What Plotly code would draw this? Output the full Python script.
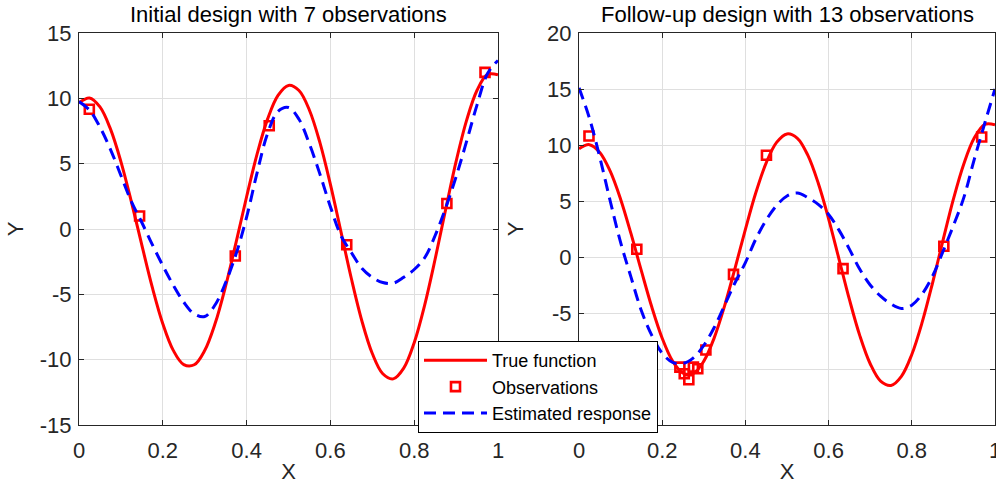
import plotly.graph_objects as go

# ---------------- data ----------------
x_grid = [0.0, 0.025, 0.05, 0.075, 0.1, 0.125, 0.15, 0.175, 0.2, 0.225,
          0.25, 0.275, 0.3, 0.325, 0.35, 0.375, 0.4, 0.425, 0.45, 0.475,
          0.5, 0.525, 0.55, 0.575, 0.6, 0.625, 0.65, 0.675, 0.7, 0.725,
          0.75, 0.775, 0.8, 0.825, 0.85, 0.875, 0.9, 0.925, 0.95, 0.975, 1.0]

true_y = [9.66, 10.03, 9.34, 7.66, 5.16, 2.08, -1.24, -4.47, -7.25, -9.29,
          -10.38, -10.39, -9.30, -7.22, -4.36, -1.01, 2.47, 5.73, 8.41, 10.23,
          10.99, 10.60, 9.09, 6.61, 3.41, -0.18, -3.79, -7.02, -9.53, -11.08,
          -11.47, -10.65, -8.70, -5.82, -2.30, 1.49, 5.17, 8.31, 10.62, 11.83, 11.80]

est_left = [9.75, 9.1, 7.8, 6.1, 4.1, 2.1, 0.5, -1.2, -2.8, -4.3,
            -5.6, -6.5, -6.7, -5.8, -4.1, -1.9, 0.9, 4.3, 7.3, 9.0,
            9.3, 8.4, 6.5, 4.2, 1.7, -0.5, -1.8, -3.0, -3.7, -4.1,
            -4.15, -3.7, -3.1, -2.2, -0.5, 1.6, 4.0, 6.7, 9.5, 11.9, 12.9]

est_right = [15.1, 12.4, 8.9, 5.0, 1.3, -1.8, -4.8, -7.0, -8.6, -9.4,
             -9.5, -9.0, -7.9, -6.3, -4.3, -2.3, -0.5, 1.6, 3.3, 4.6,
             5.45, 5.72, 5.3, 4.7, 3.8, 2.4, 0.7, -1.1, -2.5, -3.5,
             -4.2, -4.6, -4.3, -3.3, -1.7, 0.5, 2.8, 5.3, 8.7, 11.9, 15.0]

obs_left_x = [0.0246, 0.1446, 0.373, 0.454, 0.639, 0.878, 0.969]
obs_left_y = [9.16, 1.0, -2.07, 7.9, -1.2, 1.95, 11.99]

obs_right_x = [0.024, 0.139, 0.2425, 0.253, 0.264, 0.275, 0.2855, 0.305,
               0.3714, 0.4506, 0.6347, 0.877, 0.968]
obs_right_y = [10.81, 0.69, -9.83, -10.42, -10.96, -9.83, -9.98, -8.3,
               -1.55, 9.09, -1.04, 0.96, 10.72]

x_ticks = [0, 0.2, 0.4, 0.6, 0.8, 1]
x_tick_text = ["0", "0.2", "0.4", "0.6", "0.8", "1"]
y_ticks_left = [-15, -10, -5, 0, 5, 10, 15]
y_ticks_right = [-15, -10, -5, 0, 5, 10, 15, 20]

titles = ["Initial design with 7 observations", "Follow-up design with 13 observations"]
names = ["True function", "Observations", "Estimated response"]

# ---------------- styling ----------------
W, H = 996, 484
FONT = "Liberation Sans, Arial, Helvetica, sans-serif"
AX = "#262626"
GRID = "#dfdfdf"
RED = "#ff0000"
BLUE = "#0000ff"
FS = 22

fig = go.Figure()


def add_panel(xa, ya, est, ox, oy, show):
    fig.add_trace(go.Scatter(x=x_grid, y=true_y, mode="lines", name=names[0],
                             line=dict(color=RED, width=3, shape="spline"),
                             xaxis=xa, yaxis=ya, showlegend=show))
    fig.add_trace(go.Scatter(x=ox, y=oy, mode="markers", name=names[1],
                             marker=dict(symbol="square-open", size=9, color=RED,
                                         line=dict(color=RED, width=2.6)),
                             xaxis=xa, yaxis=ya, showlegend=show))
    fig.add_trace(go.Scatter(x=x_grid, y=est, mode="lines", name=names[2],
                             line=dict(color=BLUE, width=3, dash="12px,7px", shape="spline"),
                             xaxis=xa, yaxis=ya, showlegend=show))


add_panel("x", "y", est_left, obs_left_x, obs_left_y, False)
add_panel("x2", "y2", est_right, obs_right_x, obs_right_y, True)

ydom = [(H - 425) / H, (H - 33) / H]
common_x = dict(range=[0, 1], tickvals=x_ticks, ticktext=x_tick_text,
                showgrid=True, gridcolor=GRID, gridwidth=1, zeroline=False,
                showline=True, linecolor=AX, linewidth=1, mirror="allticks",
                ticks="inside", ticklen=5, tickcolor=AX, ticklabelstandoff=6,
                ticklabeloverflow="allow",
                tickfont=dict(family=FONT, size=FS, color=AX),
                title=dict(text="X", font=dict(family=FONT, size=FS, color=AX), standoff=2),
                automargin=False)
common_y = dict(showgrid=True, gridcolor=GRID, gridwidth=1, zeroline=False,
                showline=True, linecolor=AX, linewidth=1, mirror="allticks",
                ticks="inside", ticklen=5, tickcolor=AX, ticklabelstandoff=2,
                tickfont=dict(family=FONT, size=FS, color=AX),
                title=dict(text="Y", font=dict(family=FONT, size=FS, color=AX), standoff=10),
                automargin=False)

fig.update_layout(
    width=W, height=H,
    margin=dict(l=0, r=0, t=0, b=0),
    paper_bgcolor="white", plot_bgcolor="white",
    font=dict(family=FONT, color=AX),
    xaxis=dict(domain=[79 / W, 498 / W], anchor="y", **common_x),
    yaxis=dict(domain=ydom, anchor="x", range=[-15, 15], tickvals=y_ticks_left,
               ticktext=[str(v) for v in y_ticks_left], **common_y),
    xaxis2=dict(domain=[579 / W, 995 / W], anchor="y2", **common_x),
    yaxis2=dict(domain=ydom, anchor="x2", range=[-15, 20], tickvals=y_ticks_right,
                ticktext=[str(v) for v in y_ticks_right], **common_y),
    legend=dict(x=418 / W, y=(H - 341) / H, xanchor="left", yanchor="top",
                bgcolor="white", bordercolor="black", borderwidth=1,
                font=dict(family=FONT, size=18, color="black"),
                tracegroupgap=0, itemwidth=63),
    showlegend=True,
    annotations=[
        dict(text=titles[0], x=(79 + 498) / 2 / W, y=1 - 15 / H, xref="paper", yref="paper",
             showarrow=False, xanchor="center", yanchor="middle",
             font=dict(family=FONT, size=FS, color="black")),
        dict(text=titles[1], x=(579 + 995) / 2 / W, y=1 - 15 / H, xref="paper", yref="paper",
             showarrow=False, xanchor="center", yanchor="middle",
             font=dict(family=FONT, size=FS, color="black")),
    ],
)

fig.write_html("out.html")
